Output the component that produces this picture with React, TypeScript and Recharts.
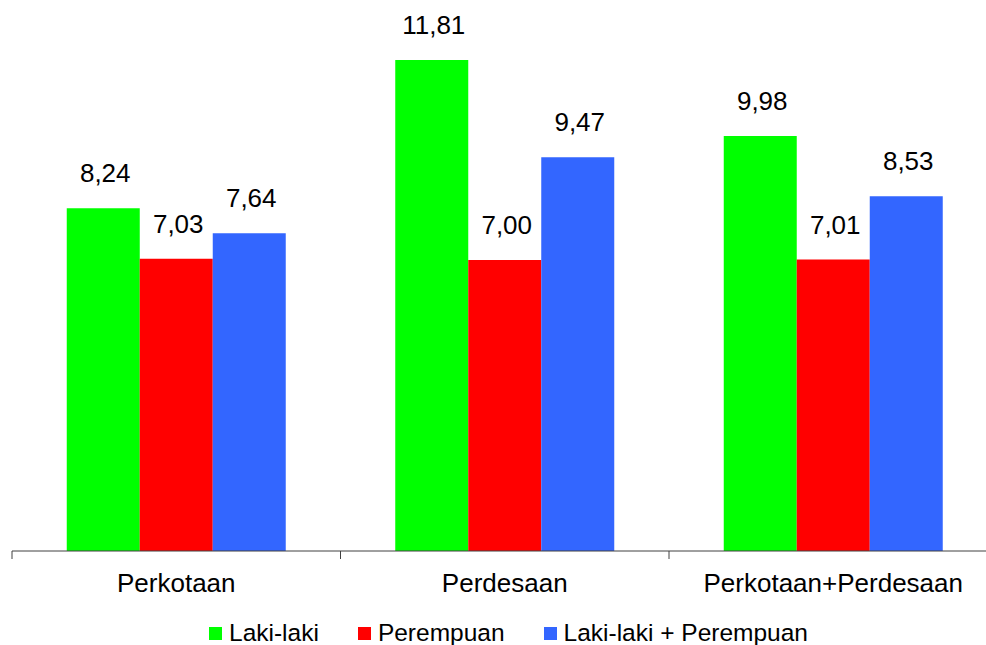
import React from "react";
import { BarChart, Bar, XAxis, YAxis, Legend, LabelList } from "recharts";

const categories = ["Perkotaan", "Perdesaan", "Perkotaan+Perdesaan"];
const lakiLaki = [8.24, 11.81, 9.98];
const perempuan = [7.03, 7.0, 7.01];
const total = [7.64, 9.47, 8.53];
const seriesNames = ["Laki-laki", "Perempuan", "Laki-laki + Perempuan"];
const seriesColors = ["#00FF00", "#FF0000", "#3366FF"];

const data = categories.map((cat, i) => ({
  cat,
  laki: lakiLaki[i],
  perempuan: perempuan[i],
  total: total[i],
}));

const FONT = "'Liberation Sans', Arial, sans-serif";
const CHART_W = 1000;
const CHART_H = 645;
const MARGIN = { top: 52, right: 2.5, bottom: 0, left: 12 };
const PLOT_W = CHART_W - MARGIN.left - MARGIN.right;

const fmt = (v: number) => v.toFixed(2).replace(".", ",");

// batas kategori digambar sebagai garis tick, bukan di tengah
function CategoryTick(props: any) {
  const { x, y, payload, index } = props;
  const half = payload.offset || PLOT_W / categories.length / 2;
  const left = x - half;
  const right = x + half;
  return (
    <g>
      <line x1={left} y1={y} x2={left} y2={y + 8} stroke="#404040" strokeWidth={1} />
      {index === categories.length - 1 && (
        <line x1={right} y1={y} x2={right} y2={y + 8} stroke="#404040" strokeWidth={1} />
      )}
      <text
        x={x}
        y={y + 41}
        textAnchor="middle"
        fontSize={26}
        fontFamily={FONT}
        fill="#000"
      >
        {payload.value}
      </text>
    </g>
  );
}

function ValueLabel(props: any) {
  const { x, y, width, value } = props;
  return (
    <text
      x={x + width / 2 + 2}
      y={y - 26}
      textAnchor="middle"
      fontSize={26}
      fontFamily={FONT}
      fill="#000"
    >
      {fmt(value)}
    </text>
  );
}

function LegendContent() {
  return (
    <div
      style={{
        display: "flex",
        justifyContent: "center",
        alignItems: "center",
        fontFamily: FONT,
        fontSize: 24.5,
        lineHeight: "24px",
        color: "#000",
      }}
    >
      {seriesNames.map((name, i) => (
        <div
          key={name}
          style={{
            display: "flex",
            alignItems: "center",
            marginLeft: i === 0 ? 0 : 39,
          }}
        >
          <span
            style={{
              display: "inline-block",
              width: 13,
              height: 13,
              background: seriesColors[i],
              marginRight: 7,
            }}
          />
          <span>{name}</span>
        </div>
      ))}
    </div>
  );
}

export default function App() {
  return (
    <div
      style={{
        position: "fixed",
        left: 0,
        top: 0,
        width: 986,
        height: 645,
        overflow: "hidden",
        background: "#fff",
      }}
    >
      <BarChart
        width={CHART_W}
        height={CHART_H}
        data={data}
        margin={MARGIN}
        barCategoryGap="16.667%"
        barGap={0}
      >
        <XAxis
          dataKey="cat"
          height={94}
          axisLine={{ stroke: "#404040", strokeWidth: 1 }}
          tickLine={false}
          tickSize={0}
          tickMargin={0}
          interval={0}
          tick={<CategoryTick />}
        />
        <YAxis hide domain={[0, 12]} />
        <Legend
          verticalAlign="middle"
          align="center"
          wrapperStyle={{ top: 621, left: 0, width: 1017 }}
          content={<LegendContent />}
        />
        <Bar dataKey="laki" name={seriesNames[0]} fill={seriesColors[0]} isAnimationActive={false}>
          <LabelList dataKey="laki" content={<ValueLabel />} />
        </Bar>
        <Bar dataKey="perempuan" name={seriesNames[1]} fill={seriesColors[1]} isAnimationActive={false}>
          <LabelList dataKey="perempuan" content={<ValueLabel />} />
        </Bar>
        <Bar dataKey="total" name={seriesNames[2]} fill={seriesColors[2]} isAnimationActive={false}>
          <LabelList dataKey="total" content={<ValueLabel />} />
        </Bar>
      </BarChart>
    </div>
  );
}
